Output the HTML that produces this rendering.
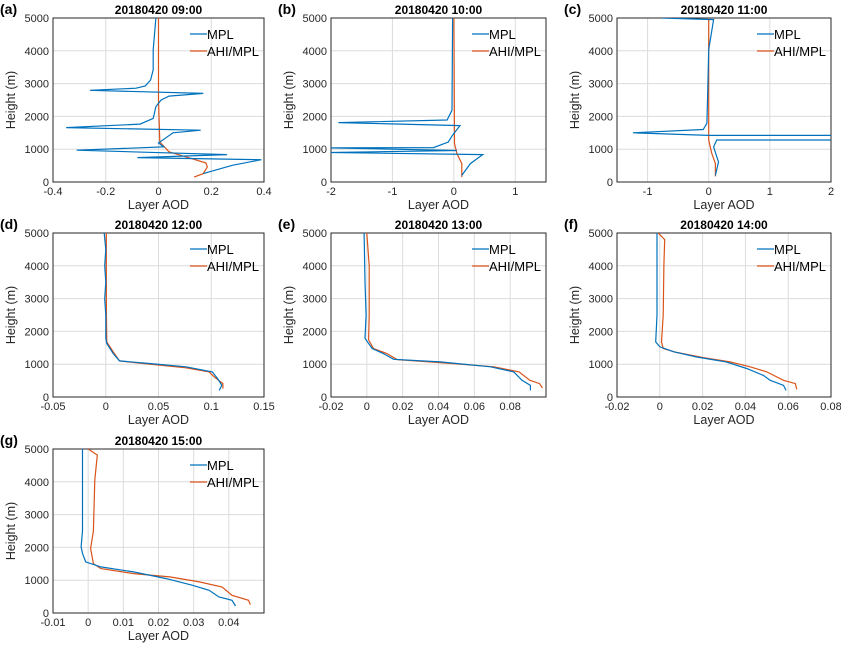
<!DOCTYPE html>
<html><head><meta charset="utf-8">
<style>
body{margin:0;background:#fff;}
svg{display:block;font-family:"Liberation Sans",sans-serif;}
.tick{font-size:11px;fill:#262626;}
.ttl{font-size:12px;font-weight:bold;fill:#000;}
.lbl{font-size:12.5px;fill:#262626;}
.pl{font-size:14px;font-weight:bold;fill:#000;}
.leg{font-size:13px;fill:#000;}
</style></head>
<body>
<svg id="fig" width="841" height="646" viewBox="0 0 841 646"></svg>
<script>
// Panel metadata
const panelLetters = ["a","b","c","d","e","f","g"];
const panelTitles = ["20180420 09:00","20180420 10:00","20180420 11:00","20180420 12:00","20180420 13:00","20180420 14:00","20180420 15:00"];
const xRanges = [[-0.4,0.4],[-2,1.5],[-1.5,2],[-0.05,0.15],[-0.02,0.1],[-0.02,0.08],[-0.01,0.05]];
const xTickLists = [[-0.4,-0.2,0,0.2,0.4],[-2,-1,0,1],[-1,0,1,2],[-0.05,0,0.05,0.1,0.15],[-0.02,0,0.02,0.04,0.06,0.08],[-0.02,0,0.02,0.04,0.06,0.08],[-0.01,0,0.01,0.02,0.03,0.04]];
const yTicks = [0,1000,2000,3000,4000,5000];
// MPL series: heights and layer AOD
const mplH = [
 [255,510,680,745,835,970,1070,1190,1500,1580,1660,1765,1940,2300,2500,2620,2700,2795,2860,2930,3110,3420,4030,5000],
 [200,560,835,900,960,1040,1050,1220,1430,1720,1810,1890,2190,5000],
 [200,610,1070,1280,1280,1420,1420,1500,1600,1790,2500,4030,4950,5000],
 [200,357,560,765,920,1020,1100,1330,1630,1790,2500,3000,3500,4000,4500,5000],
 [200,357,510,765,920,1070,1150,1330,1480,1790,2500,3500,5000],
 [200,357,510,660,870,1070,1220,1380,1530,1680,2500,4030,5000],
 [214,387,489,692,845,1049,1253,1405,1558,1813,2016,2500,4053,5000]
];
const mplV = [
 [0.17,0.28,0.39,-0.08,0.26,-0.31,0.02,0.0,0.055,0.16,-0.35,-0.07,-0.02,-0.01,0.01,0.04,0.17,-0.26,-0.085,-0.05,-0.03,-0.02,-0.02,-0.01],
 [0.13,0.27,0.47,-2.0,0.05,-2.0,-0.33,-0.09,-0.02,0.1,-1.88,-0.11,-0.03,-0.02],
 [0.11,0.16,0.08,0.13,3.0,3.0,0.0,-1.24,-0.09,-0.03,-0.02,0.0,0.08,-0.77],
 [0.1075,0.11,0.106,0.101,0.076,0.0415,0.013,0.007,0.001,0,0,-0.001,0,-0.001,0,-0.0015],
 [0.0913,0.0913,0.0866,0.082,0.069,0.041,0.015,0.009,0.003,-0.001,-0.0004,-0.001,-0.0015],
 [0.059,0.0578,0.0516,0.0484,0.0406,0.031,0.0172,0.0063,0,-0.0019,-0.0013,-0.0013,-0.0013],
 [0.0419,0.0409,0.0372,0.0344,0.0297,0.0222,0.0129,0.0036,-0.0007,-0.0016,-0.002,-0.0016,-0.0016,-0.0016]
];
// AHI/MPL series
const ahiH = [
 [150,255,460,580,765,920,1220,2500,5000],
 [150,560,870,1170,5000],
 [170,560,870,1280,5000],
 [255,410,610,765,890,1000,1100,1380,1680,2500,5000],
 [275,410,510,765,920,1050,1140,1330,1480,1740,2500,4000,5000],
 [235,410,510,765,920,1070,1200,1360,1480,1680,2500,4030,4800,5000],
 [255,387,540,794,947,1100,1202,1354,1507,1965,2500,4053,4817,5000]
];
const ahiV = [
 [0.135,0.17,0.185,0.18,0.105,0.04,0.005,0.0,0.0],
 [0.13,0.13,0.05,0.01,0.0],
 [0.11,0.11,0.05,0.0,0.0],
 [0.111,0.111,0.103,0.098,0.076,0.0415,0.013,0.007,0.001,0.0006,0.0005],
 [0.098,0.0964,0.091,0.085,0.071,0.041,0.017,0.011,0.0037,0.001,0.0013,0.0013,0.0],
 [0.064,0.0633,0.0578,0.05,0.0422,0.0328,0.0203,0.0078,0.0016,0.0008,0.0016,0.0019,0.0023,-0.0008],
 [0.0461,0.0456,0.0409,0.0381,0.0316,0.0232,0.0129,0.0036,0.0015,0.0007,0.0015,0.0019,0.0026,0.0]
];

const NS="http://www.w3.org/2000/svg";
const svg=document.getElementById('fig');
const lefts=[53,331,617], widths=[211,215,214], tops=[18,233,449], PH=164;
function mk(tag,attrs,parent){const e=document.createElementNS(NS,tag);for(const k in attrs)e.setAttribute(k,attrs[k]);(parent||svg).appendChild(e);return e;}
function fmt(v){return (Math.round(v*1000)/1000).toString();}

panelLetters.forEach((L,i)=>{
  const col=i%3,row=Math.floor(i/3);
  const X0=lefts[col],W=widths[col],Y0=tops[row];
  const [xmin,xmax]=xRanges[i];
  const sx=v=>X0+(v-xmin)/(xmax-xmin)*W;
  const sy=h=>Y0+PH-h/5000*PH;
  const g=mk('g',{});
  
  
  const cp=mk('clipPath',{id:'cp'+i},g);
  mk('rect',{x:X0,y:Y0,width:W,height:PH},cp);
  // grid
  xTickLists[i].forEach(t=>{
    const ln=mk('line',{x1:sx(t),x2:sx(t),y1:Y0,y2:Y0+PH,stroke:'#dcdcdc','stroke-width':1},g);
    
    
    const tk=mk('text',{x:sx(t),y:Y0+PH+13,'text-anchor':'middle',class:'tick'},g);
    tk.textContent=fmt(t);
    
    
  });
  yTicks.forEach(t=>{
    const ln=mk('line',{x1:X0,x2:X0+W,y1:sy(t),y2:sy(t),stroke:'#dcdcdc','stroke-width':1},g);
    
    
    const tk=mk('text',{x:X0-4,y:sy(t)+4,'text-anchor':'end',class:'tick'},g);
    tk.textContent=t;
    
    
  });
  const frame=mk('rect',{x:X0,y:Y0,width:W,height:PH,fill:'none',stroke:'#262626','stroke-width':1},g);
  
  
  // series
  const mk_line=(H,V,color,name)=>{
    const d=H.map((h,k)=>(k?'L':'M')+sx(V[k]).toFixed(1)+' '+sy(h).toFixed(1)).join(' ');
    const p=mk('path',{d:d,fill:'none',stroke:color,'stroke-width':1.2,'clip-path':'url(#cp'+i+')'},g);
    
    
  };
  mk_line(ahiH[i],ahiV[i],'#d95319','ahi-mpl-line');
  mk_line(mplH[i],mplV[i],'#0072bd','mpl-line');
  // title, labels
  const tt=mk('text',{x:X0+W/2,y:Y0-4,'text-anchor':'middle',class:'ttl'},g);
  tt.textContent=panelTitles[i];
  
  
  const xl=mk('text',{x:X0+W/2,y:Y0+PH+27,'text-anchor':'middle',class:'lbl'},g);
  xl.textContent='Layer AOD';
  
  
  const ylx=X0-38;
  const yl=mk('text',{x:ylx,y:Y0+PH/2,'text-anchor':'middle',class:'lbl',transform:`rotate(-90 ${ylx} ${Y0+PH/2})`},g);
  yl.textContent='Height (m)';
  
  
  const pl=mk('text',{x:X0-53,y:Y0-4,class:'pl'},g);
  pl.textContent='('+L+')';
  
  
  // legend
  const lx=X0+W-74;
  [['MPL','#0072bd',Y0+16],['AHI/MPL','#d95319',Y0+33]].forEach(([n,c,yy])=>{
    const ln=mk('line',{x1:lx,x2:lx+17,y1:yy,y2:yy,stroke:c,'stroke-width':1.2},g);
    
    
    const t=mk('text',{x:lx+17,y:yy+5,class:'leg'},g);
    t.textContent=n;
    
    
  });
});
</script>
</body></html>
